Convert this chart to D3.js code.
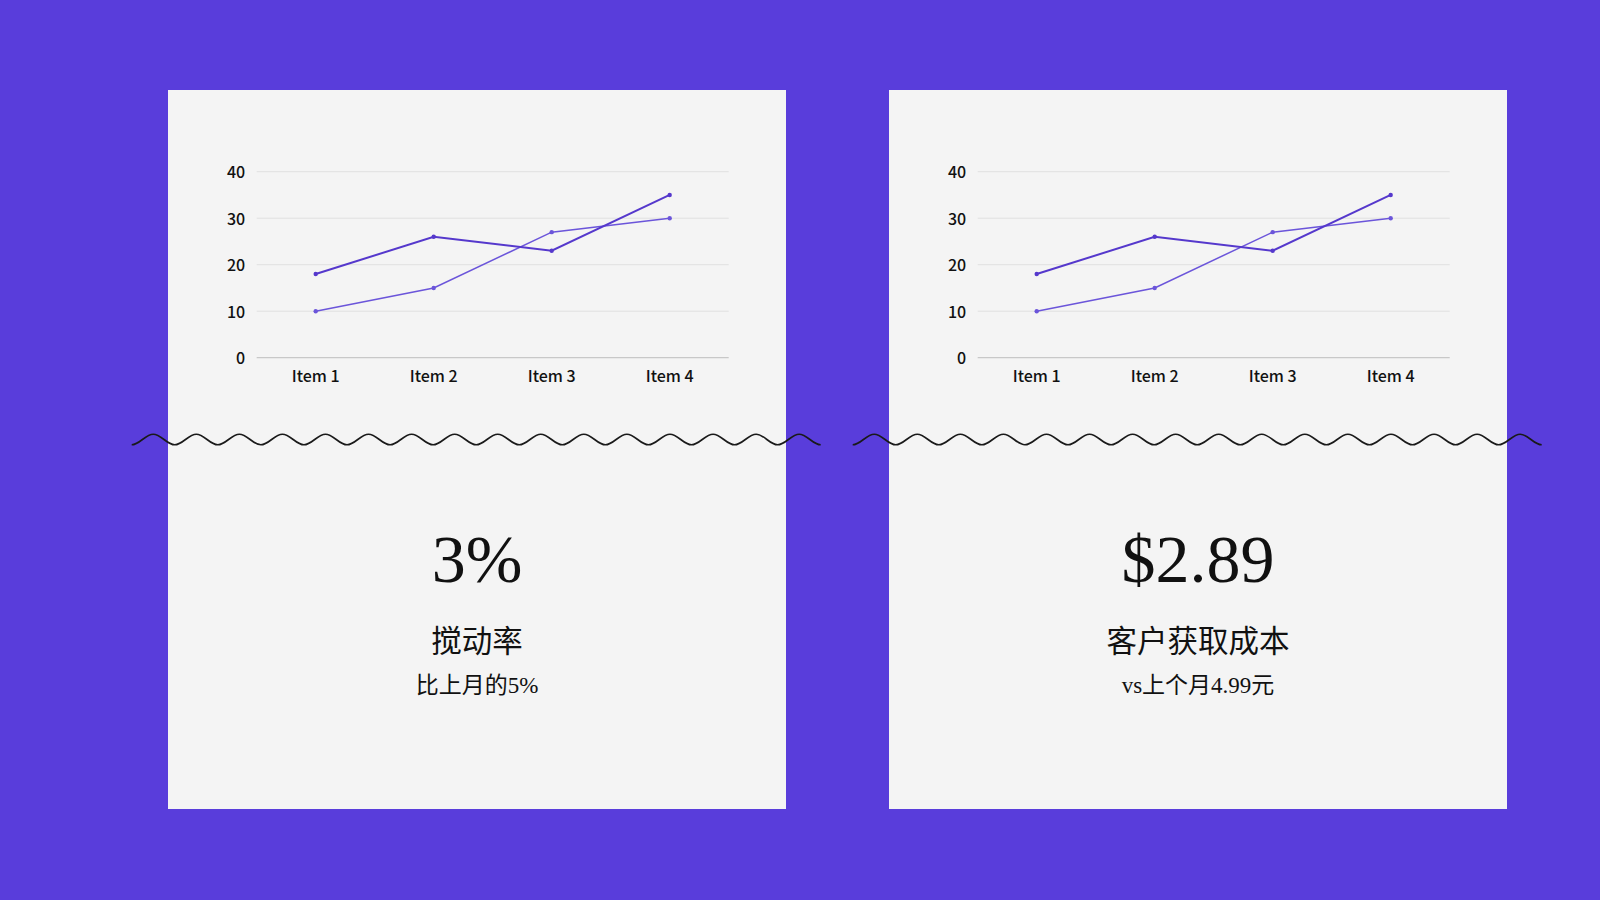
<!DOCTYPE html>
<html lang="zh">
<head>
    <meta charset="UTF-8">
    <title>KPI cards</title>
    <script src="https://d3js.org/d3.v7.min.js"></script>
    <style>
        html, body { margin: 0; padding: 0; background: #593ddb; }
        svg { display: block; }
    </style>
</head>
<body>
    <div id="chart"></div>

    <script>
        // data
        var categories = ['Item 1', 'Item 2', 'Item 3', 'Item 4'];
        var seriesA = [18, 26, 23, 35];
        var seriesB = [10, 15, 27, 30];
        var yTicks = [0, 10, 20, 30, 40];

        var cardValues = ['3%', '$2.89'];
        var cardTitles = ['搅动率', '客户获取成本'];
        var cardNotes = ['比上月的5%', 'vs上个月4.99元'];

        var width = 1600;
        var height = 900;

        var cardX = [168, 889];
        var cardY = 90;
        var cardW = 618;
        var cardH = 719;

        var svg = d3.select('#chart').append('svg')
            .attr('width', width)
            .attr('height', height)
            .style('background', '#593ddb');

        // chart scales, relative to the card
        var xScale = d3.scaleBand()
            .domain(categories)
            .range([88.7, 560.7]);

        var yScale = d3.scaleLinear()
            .domain([0, 40])
            .range([267.7, 81.7]);

        var line = d3.line()
            .x(function (d, i) { return xScale(categories[i]) + xScale.bandwidth() / 2; })
            .y(function (d) { return yScale(d); });

        // wave divider made of half-wave bezier segments
        function wavePath(x0, x1, yMid, amp, cycles) {
            var p = d3.path();
            var half = (x1 - x0) / (cycles * 2);
            var k = 0.3642; // bezier approx for sine half-wave
            p.moveTo(x0, yMid + amp);
            for (var i = 0; i < cycles * 2; i++) {
                var sx = x0 + i * half;
                var sy = (i % 2 === 0) ? yMid + amp : yMid - amp;
                var ey = (i % 2 === 0) ? yMid - amp : yMid + amp;
                p.bezierCurveTo(sx + half * k, sy, sx + half * (1 - k), ey, sx + half, ey);
            }
            return p.toString();
        }

        cardX.forEach(function (cx, c) {
            var g = svg.append('g').attr('transform', 'translate(' + cx + ',' + cardY + ')');

            g.append('rect')
                .attr('width', cardW)
                .attr('height', cardH)
                .attr('fill', '#f4f4f4');

            // grid
            g.selectAll('.grid')
                .data(yTicks)
                .enter().append('line')
                    .attr('x1', xScale.range()[0])
                    .attr('x2', xScale.range()[1])
                    .attr('y1', function (d) { return yScale(d); })
                    .attr('y2', function (d) { return yScale(d); })
                    .attr('stroke', function (d) { return d === 0 ? '#c8c8c8' : '#e0e0e0'; })
                    .attr('stroke-width', function (d) { return d === 0 ? 1.2 : 1; });

            // y labels
            g.selectAll('.ylab')
                .data(yTicks)
                .enter().append('text')
                    .attr('x', xScale.range()[0] - 11.5)
                    .attr('y', function (d) { return yScale(d); })
                    .attr('dy', '0.42em')
                    .attr('text-anchor', 'end')
                    .style('font-family', '"Noto Sans CJK SC", "Noto Sans", sans-serif')
                    .style('font-size', '16px')
                    .style('font-weight', 500)
                    .style('fill', '#111')
                    .text(function (d) { return d; });

            // x labels
            g.selectAll('.xlab')
                .data(categories)
                .enter().append('text')
                    .attr('x', function (d) { return xScale(d) + xScale.bandwidth() / 2; })
                    .attr('y', yScale(0) + 24)
                    .attr('text-anchor', 'middle')
                    .style('font-family', '"Noto Sans CJK SC", "Noto Sans", sans-serif')
                    .style('font-size', '16px')
                    .style('font-weight', 500)
                    .style('fill', '#111')
                    .text(function (d) { return d; });

            // lines
            var series = [
                { values: seriesB, color: '#6b55da', w: 1.5 },
                { values: seriesA, color: '#5538cc', w: 2 }
            ];
            series.forEach(function (s) {
                g.append('path')
                    .attr('d', line(s.values))
                    .attr('fill', 'none')
                    .attr('stroke', s.color)
                    .attr('stroke-width', s.w);
                g.selectAll(null)
                    .data(s.values)
                    .enter().append('circle')
                        .attr('cx', function (d, i) { return xScale(categories[i]) + xScale.bandwidth() / 2; })
                        .attr('cy', function (d) { return yScale(d); })
                        .attr('r', 2.2)
                        .attr('fill', s.color);
            });

            // big number
            g.append('text')
                .attr('x', cardW / 2)
                .attr('y', 491.5)
                .attr('text-anchor', 'middle')
                .style('font-family', '"Liberation Serif", "Times New Roman", serif')
                .style('font-size', '68px')
                .style('fill', '#111')
                .text(cardValues[c]);

            g.append('text')
                .attr('x', cardW / 2)
                .attr('y', 549)
                .attr('dominant-baseline', 'central')
                .attr('text-anchor', 'middle')
                .style('font-family', '"Noto Sans CJK SC", sans-serif')
                .style('font-size', '30.5px')
                .style('fill', '#111')
                .text(cardTitles[c]);

            g.append('text')
                .attr('x', cardW / 2)
                .attr('y', 595)
                .attr('dominant-baseline', 'central')
                .attr('text-anchor', 'middle')
                .style('font-family', '"Liberation Serif", "Noto Sans CJK SC", serif')
                .style('font-size', '23px')
                .style('fill', '#111')
                .text(cardNotes[c]);

            // wave
            svg.append('path')
                .attr('d', wavePath(cx - 36.3, cx + 652.7, 439.5, 5.3, 16))
                .attr('fill', 'none')
                .attr('stroke', '#1a1a1a')
                .attr('stroke-width', 1.6);
        });
    </script>
</body>
</html>
